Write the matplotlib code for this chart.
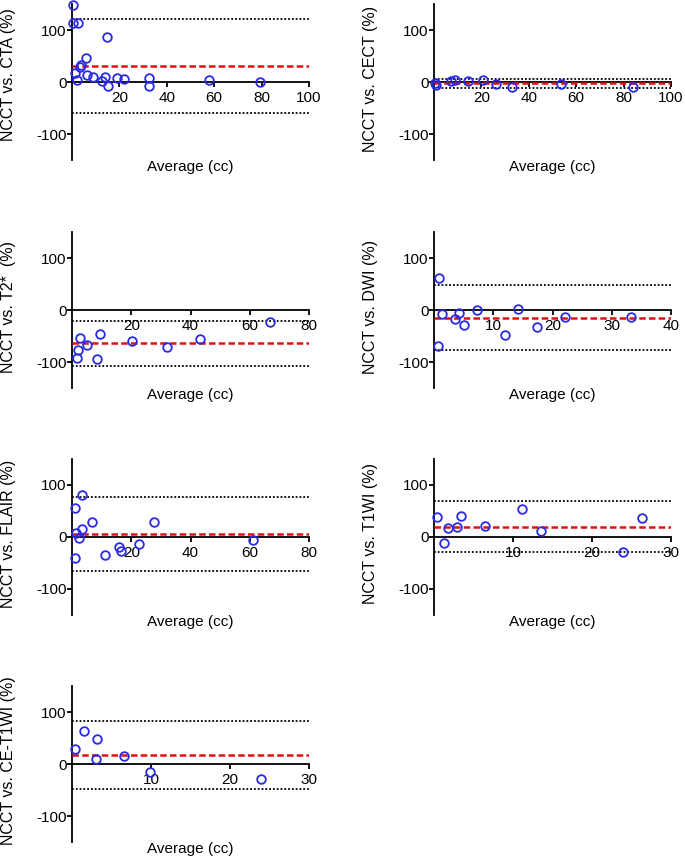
import numpy as np
import matplotlib
matplotlib.use("Agg")
import matplotlib.pyplot as plt

plt.rcParams['font.family'] = ['Liberation Sans', 'DejaVu Sans']
plt.rcParams['axes.unicode_minus'] = False

# Bland-Altman data: average volume (cc) vs. difference (%)
cta_avg = [0.6, 0.6, 2.4, 14.7, 5.9, 3.8, 3.4, 1.3, 2.3, 6.2, 8.8, 12.6, 14.0, 15.0,
           18.9, 22.0, 32.6, 32.6, 58.0, 79.5]
cta_diff = [149, 114, 113, 86, 47, 33, 29, 17, 4, 13, 10, 1, 10, -7, 8, 5, 7, -7, 3, 0]

cect_avg = [0.6, 1.0, 7.2, 8.7, 14.2, 20.7, 26.1, 33.0, 53.7, 83.8]
cect_diff = [-2, -6, 1, 4, 1, 4, -3, -10, -4, -9]

t2_avg = [1.6, 2.1, 2.7, 5.1, 8.3, 9.4, 20.4, 32.0, 43.3, 67.0]
t2_diff = [-93, -76, -54, -68, -95, -46, -60, -71, -56, -23]

dwi_avg = [0.8, 0.7, 1.4, 3.6, 4.3, 5.1, 7.2, 12.0, 14.2, 17.3, 22.1, 33.3]
dwi_diff = [62, -70, -8, -18, -5, -28, 0, -49, 1, -33, -14, -13]

flair_avg = [3.3, 1.0, 6.6, 27.7, 3.3, 1.3, 2.5, 1.0, 11.1, 15.9, 16.7, 22.6, 61.2]
flair_diff = [81, 55, 29, 29, 15, 8, -1, -41, -35, -19, -27, -13, -6]

t1_avg = [0.4, 1.3, 1.8, 2.9, 3.4, 6.4, 11.1, 13.6, 23.9, 26.3]
t1_diff = [38, -11, 17, 20, 40, 21, 54, 11, -29, 36]

cet1_avg = [0.4, 1.5, 3.2, 3.0, 6.6, 9.9, 23.9]
cet1_diff = [28, 64, 49, 9, 16, -15, -29]

# bias, upper and lower limits of agreement (%)
bias = [31, -2.5, -64, -14.5, 5, 20, 17]
upper_loa = [121, 6.5, -21, 47.5, 76, 69, 82]
lower_loa = [-59, -11.5, -107, -77, -66, -29, -48]

labels = ['NCCT vs. CTA (%)', 'NCCT vs. CECT (%)', 'NCCT vs. T2*  (%)', 'NCCT vs. DWI (%)',
          'NCCT vs. FLAIR (%)', 'NCCT vs. T1WI (%)', 'NCCT vs. CE-T1WI (%)']
x_max = [100, 100, 80, 40, 80, 30, 30]
x_step = [20, 20, 20, 10, 20, 10, 10]

averages = [cta_avg, cect_avg, t2_avg, dwi_avg, flair_avg, t1_avg, cet1_avg]
diffs = [cta_diff, cect_diff, t2_diff, dwi_diff, flair_diff, t1_diff, cet1_diff]

W, H = 685, 856
fig = plt.figure(figsize=(W / 100, H / 100), dpi=100)

col_left = [72, 434]
row_top = [4, 232, 459, 686]
ax_w, ax_h = 237, 156
ylabel_y = [0.55, 0.52, 0.52, 0.52, 0.52, 0.52, 0.52]

for i in range(7):
    r, c = divmod(i, 2)
    ax = fig.add_axes([col_left[c] / W, 1 - (row_top[r] + ax_h) / H, ax_w / W, ax_h / H])

    ax.axhline(upper_loa[i], color='black', lw=1.3, dashes=(1, 1.1), zorder=2)
    ax.axhline(lower_loa[i], color='black', lw=1.3, dashes=(1, 1.1), zorder=2)
    ax.axhline(bias[i], color='#e01010', lw=1.8, dashes=(2.6, 1.3), zorder=3)
    ax.plot(averages[i], diffs[i], 'o', ms=6.2, mfc='none', mec='#2a2ae6', mew=1.3,
            zorder=4, clip_on=False)

    ax.set_xlim(0, x_max[i])
    ax.set_ylim(-150, 150)
    ax.set_xticks(np.arange(x_step[i], x_max[i] + 1, x_step[i]))
    ax.set_yticks([-100, 0, 100])

    for s in ['top', 'right']:
        ax.spines[s].set_visible(False)
    ax.spines['bottom'].set_position(('data', 0))
    ax.spines['left'].set_linewidth(1.3)
    ax.spines['bottom'].set_linewidth(1.3)
    ax.tick_params(axis='both', labelsize=11, width=1.3, length=3.5, color='black')
    ax.tick_params(axis='y', pad=0.5)
    ax.tick_params(axis='x', pad=3)

    ax.set_xlabel('Average (cc)', fontsize=11)
    ax.xaxis.set_label_coords(0.5, 0.0)
    ax.set_ylabel(labels[i], fontsize=11.5)
    ax.yaxis.set_label_coords(-0.235, ylabel_y[i])
    ax.patch.set_visible(False)

fig.savefig('out.png', dpi=100)
